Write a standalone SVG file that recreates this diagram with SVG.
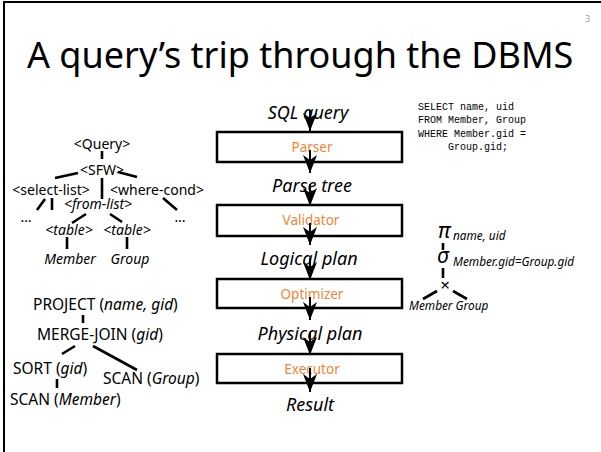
<svg xmlns="http://www.w3.org/2000/svg" width="601" height="452" viewBox="0 0 601 452">
  <defs>
    <style>
      text { font-family: "Noto Sans", "Open Sans", sans-serif; fill: #000; }
      .title { font-size: 36px; }
      .pg { font-size: 9px; fill: #a0a0a0; }
      .stage { font-size: 18px; font-style: italic; text-anchor: middle; }
      .box rect { fill: #fff; stroke: #000; stroke-width: 2.5; }
      .box text { font-size: 13.5px; fill: #f08536; text-anchor: middle; }
      .t { font-size: 14px; text-anchor: middle; }
      .p text { font-size: 15.5px; }
      .i { font-style: italic; }
      .sql text { font-family: "Liberation Mono", "DejaVu Sans Mono", monospace; font-size: 10px; }
      .ra { font-size: 21px; font-style: italic; }
      .sub { font-size: 11.8px; font-style: italic; }
      .edge { stroke: #000; stroke-width: 2.6; fill: none; }
      .flow { stroke: #000; stroke-width: 2; fill: none; marker-end: url(#head); }
    </style>
    <marker id="head" markerUnits="userSpaceOnUse" markerWidth="18" markerHeight="14" viewBox="0 -7 18 14" refX="18" refY="0" orient="auto">
      <path d="M0,-7 L18,0 L0,7 L5,0 Z" fill="#000"/>
    </marker>
  </defs>

  <!-- slide frame -->
  <path d="M4,452 V2 H601" fill="none" stroke="#000" stroke-width="2"/>
  <text class="pg" x="585" y="22">3</text>
  <text class="title" x="27" y="68">A query’s trip through the DBMS</text>

  <!-- pipeline stages -->
  <g id="sql-query"><text class="stage" x="308" y="119">SQL query</text></g>
  <g id="parser" class="box"><rect x="217" y="132" width="185" height="30"/><text x="312" y="152">Parser</text></g>
  <g id="parse-tree"><text class="stage" x="312" y="192">Parse tree</text></g>
  <g id="validator" class="box"><rect x="217" y="205" width="185" height="31"/><text x="311" y="225">Validator</text></g>
  <g id="logical-plan"><text class="stage" x="309" y="265">Logical plan</text></g>
  <g id="optimizer" class="box"><rect x="217" y="279" width="185" height="29"/><text x="312" y="299">Optimizer</text></g>
  <g id="physical-plan"><text class="stage" x="310" y="340">Physical plan</text></g>
  <g id="executor" class="box"><rect x="217" y="354" width="185" height="29"/><text x="312" y="374">Executor</text></g>
  <g id="result"><text class="stage" x="310" y="411">Result</text></g>

  <!-- SQL statement -->
  <g id="sql-text" class="sql">
    <text x="418" y="110">SELECT name, uid</text>
    <text x="418" y="123">FROM Member, Group</text>
    <text x="418" y="137">WHERE Member.gid =</text>
    <text x="448" y="150">Group.gid;</text>
  </g>

  <!-- parse tree -->
  <g id="parse-tree-diagram">
    <text class="t" x="102" y="149">&lt;Query&gt;</text>
    <text class="t" x="102" y="175">&lt;SFW&gt;</text>
    <text class="t" x="51" y="195">&lt;select-list&gt;</text>
    <text class="t" x="157" y="195">&lt;where-cond&gt;</text>
    <text class="t i" x="98" y="209">&lt;from-list&gt;</text>
    <text class="t" x="26" y="222">…</text>
    <text class="t" x="180" y="222">…</text>
    <text class="t i" x="69" y="235">&lt;table&gt;</text>
    <text class="t i" x="127" y="235">&lt;table&gt;</text>
    <text class="t i" x="70" y="264">Member</text>
    <text class="t i" x="130" y="264">Group</text>
    <path class="edge" d="M102,151 V159 M78,173 L55,178 M118,172 L137,177 M102,178 V199 M45,199 L37,210 M52,198 V210 M163,198 L177,210 M86,214 L72,223 M110,214 L122,222 M67,237 V249 M127,237 V249"/>
  </g>

  <!-- physical plan -->
  <g id="physical-plan-tree" class="p">
    <text x="33" y="310">PROJECT (<tspan class="i">name, gid</tspan>)</text>
    <text x="37" y="340">MERGE-JOIN (<tspan class="i">gid</tspan>)</text>
    <text x="13" y="374">SORT (<tspan class="i">gid</tspan>)</text>
    <text x="103" y="384">SCAN (<tspan class="i">Group</tspan>)</text>
    <text x="10" y="405">SCAN (<tspan class="i">Member</tspan>)</text>
    <path class="edge" d="M83,315 V323 M75,346 L62,354 M93,346 L137,370 M57,379 V388"/>
  </g>

  <!-- logical plan -->
  <g id="logical-plan-tree">
    <text class="ra" x="438" y="238">π</text>
    <text class="sub" x="453" y="240">name, uid</text>
    <text class="ra" x="437" y="263">σ</text>
    <text class="sub" x="453" y="266">Member.gid=Group.gid</text>
    <text x="445" y="291" font-size="17" text-anchor="middle">×</text>
    <text class="sub" x="409" y="310" font-size="12.5">Member Group</text>
    <path class="edge" d="M443,243 V250 M443,268 V278 M437,291 L423,299 M453,291 L467,299"/>
  </g>

  <!-- flow arrows -->
  <g id="connectors">
    <path class="flow" d="M310,110 V131"/>
    <path class="flow" d="M310,150 V173"/>
    <path class="flow" d="M310,184 V206"/>
    <path class="flow" d="M310,223 V245"/>
    <path class="flow" d="M310,258 V280"/>
    <path class="flow" d="M310,297 V320"/>
    <path class="flow" d="M310,332 V355"/>
    <path class="flow" d="M310,368 V392"/>
  </g>
</svg>
